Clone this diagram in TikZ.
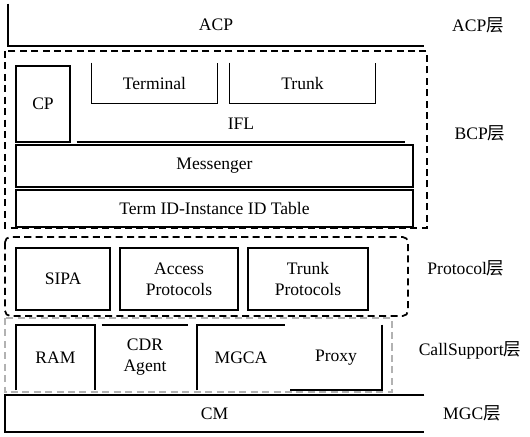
\documentclass[tikz,border=0pt]{standalone}
\usepackage{fontspec}
\setmainfont{Liberation Serif}
\newfontfamily\cjk{Noto Sans CJK SC}
\usetikzlibrary{positioning}

\tikzset{
    blk/.style={draw, line width=1pt, inner sep=0pt, align=center},
    part/.style={inner sep=0pt, align=center},
    layer/.style={dashed, line width=1pt, dash pattern=on 4pt off 2.5pt},
    lbl/.style={anchor=center, font=\normalsize}
}

\begin{document}
\begin{tikzpicture}[x=0.02cm, y=-0.02cm]
    \useasboundingbox (0,0) rectangle (530,436);

    % ACP layer
    \node[part, minimum width=8.32cm, minimum height=0.84cm] (acp) at (216,25) {ACP};
    \draw[line width=1pt] (acp.north west) |- (acp.south east);
    \node[lbl] (acpl) at (478,25) {ACP{\cjk 层}};

    % BCP layer
    \draw[layer] (5,51) rectangle (427,228);
    \node[blk, minimum width=1.08cm, minimum height=1.52cm] (cp) at (43,104) {CP};
    \node[part, minimum width=2.5cm, minimum height=0.8cm] (term) at (154.5,83) {Terminal};
    \draw[thin] (term.north west) |- (term.south east) -- (term.north east);
    \node[part, minimum width=2.9cm, minimum height=0.8cm] (trunk) at (302.5,83) {Trunk};
    \draw[thin] (trunk.north west) |- (trunk.south east) -- (trunk.north east);
    \node[part, minimum width=6.56cm, minimum height=0.72cm] (ifl) at (241,124) {IFL};
    \draw[line width=1pt] (ifl.south west) -- (ifl.south east);
    \node[blk, minimum width=7.94cm, minimum height=0.84cm] (msg) at (214.5,166) {Messenger};
    \node[blk, minimum width=7.94cm, minimum height=0.74cm] (tbl) at (214.5,208.5) {Term ID-Instance ID Table};
    \node[lbl] (bcpl) at (480,133) {BCP{\cjk 层}};

    % Protocol layer
    \draw[layer, rounded corners=3pt] (5,237) rectangle (408,316);
    \node[blk, minimum width=1.88cm, minimum height=1.24cm] (sipa) at (63,279) {SIPA};
    \node[blk, minimum width=2.36cm, minimum height=1.24cm] (accp) at (179,279) {Access\\Protocols};
    \node[blk, minimum width=2.4cm, minimum height=1.24cm] (trkp) at (308,279) {Trunk\\Protocols};
    \node[lbl] (protl) at (466,268) {Protocol{\cjk 层}};

    % CallSupport layer
    \draw[layer, gray!60] (5,318) rectangle (392,392);
    \node[part, minimum width=1.58cm, minimum height=1.3cm] (ram) at (55.5,357.5) {RAM};
    \draw[line width=1pt] (ram.south west) |- (ram.north east) -- (ram.south east);
    \node[part, minimum width=1.72cm, minimum height=1.3cm] (cdr) at (145,357.5) {CDR\\Agent};
    \draw[line width=1pt] (cdr.north west) -- (cdr.north east);
    \node[part, minimum width=1.76cm, minimum height=1.3cm] (mgca) at (241,357.5) {MGCA};
    \draw[line width=1pt] (mgca.south west) |- (mgca.north east);
    \node[part, minimum width=1.84cm, minimum height=1.3cm] (proxy) at (336,357.5) {Proxy};
    \draw[line width=1pt] (proxy.north east) |- (proxy.south west);
    \node[lbl] (csl) at (470,350) {CallSupport{\cjk 层}};

    % MGC layer
    \node[part, minimum width=8.38cm, minimum height=0.74cm] (cm) at (214.5,413.5) {CM};
    \draw[line width=1pt] (cm.north east) -| (cm.south west) -- (cm.south east);
    \node[lbl] (mgcl) at (472,413) {MGC{\cjk 层}};
\end{tikzpicture}
\end{document}
